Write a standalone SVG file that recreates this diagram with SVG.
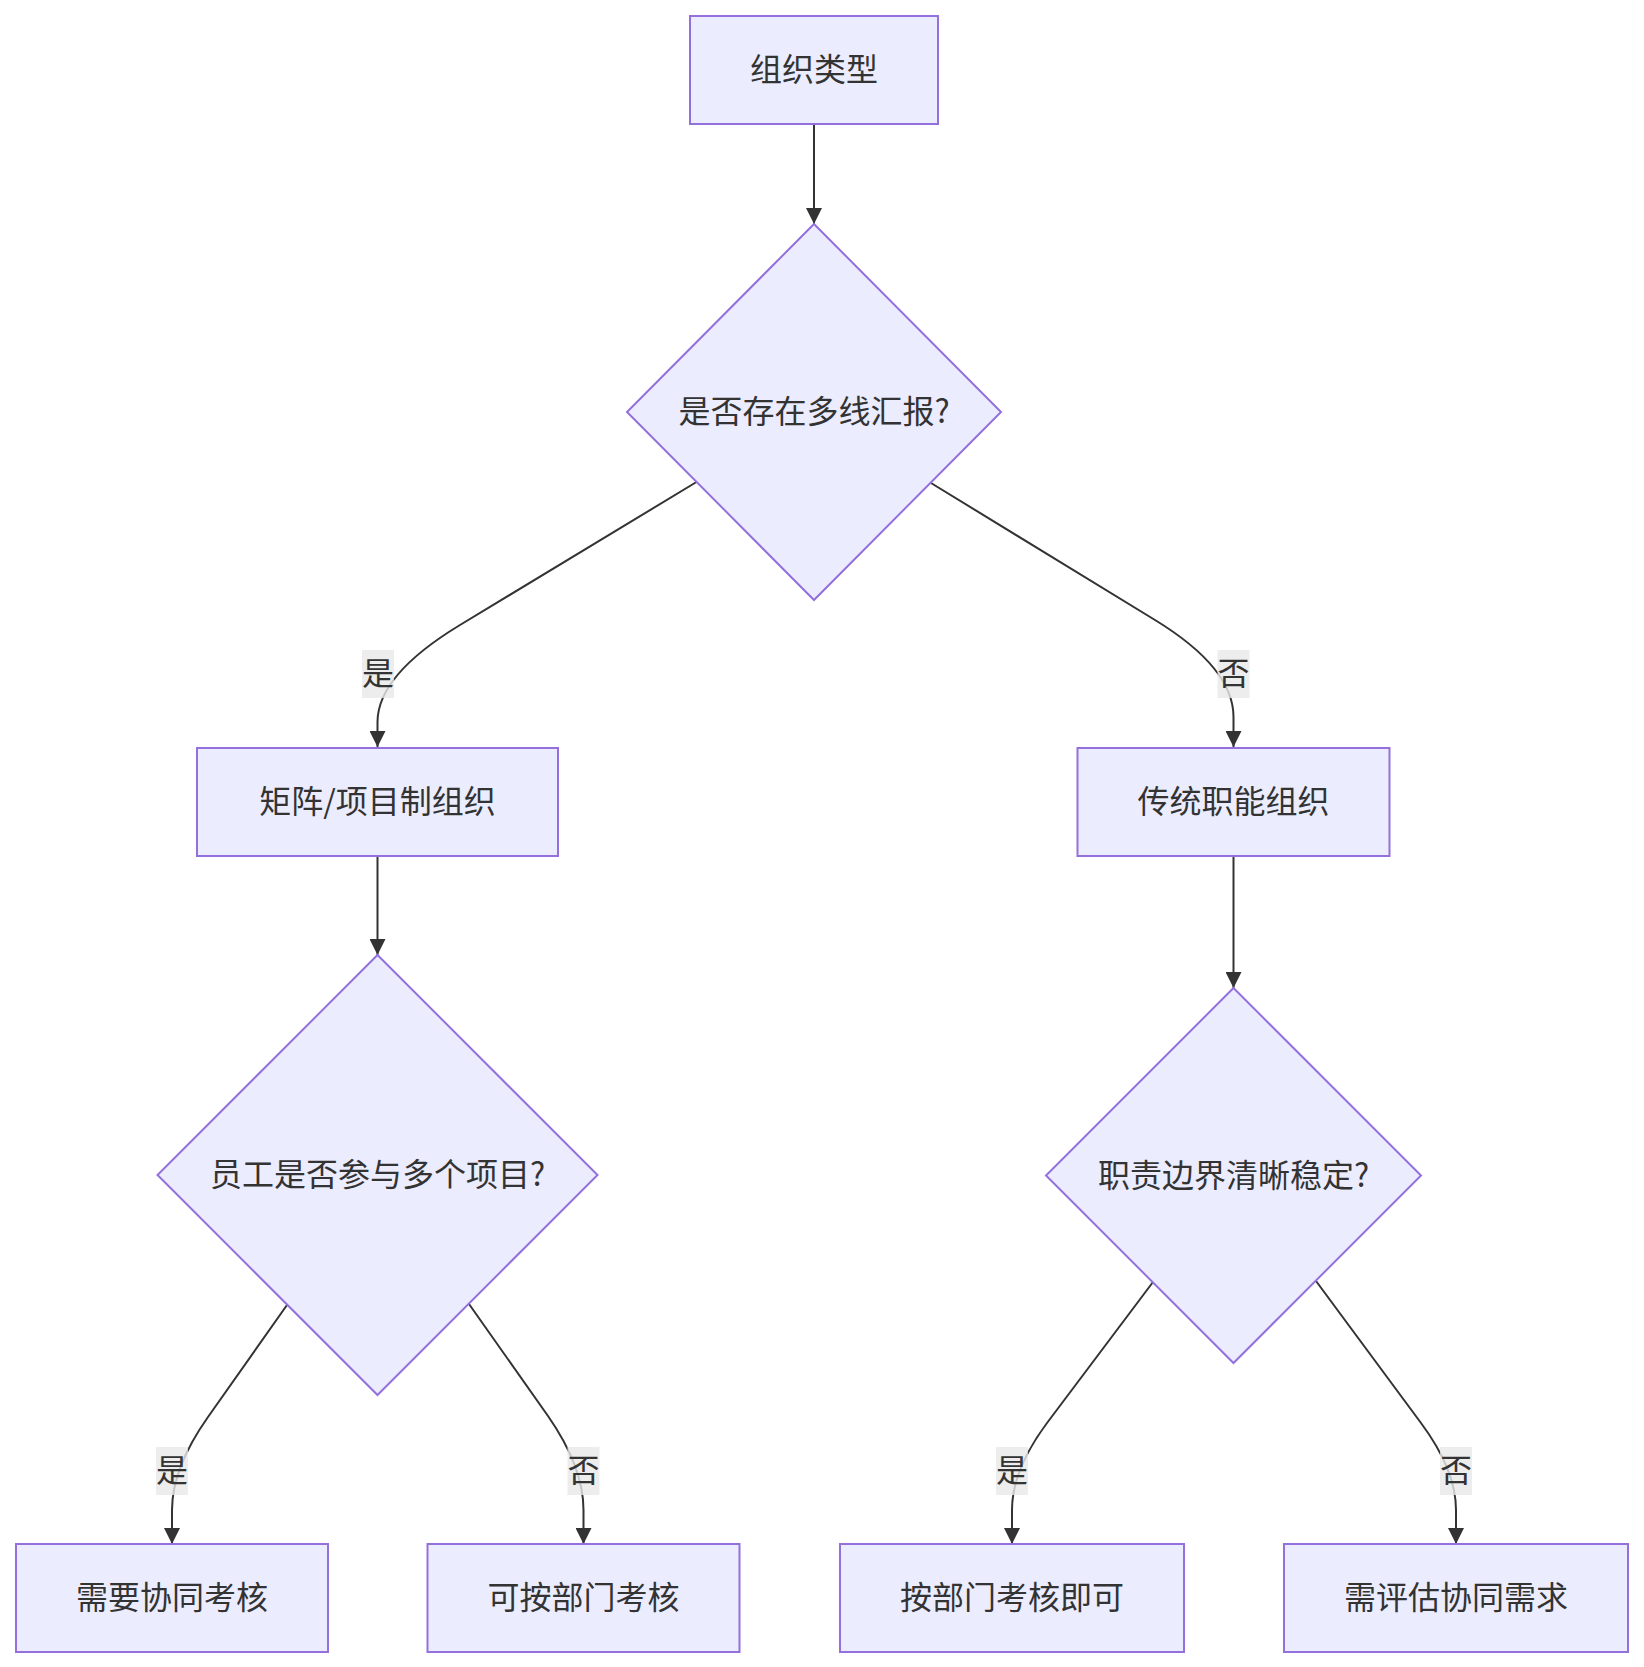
<svg xmlns="http://www.w3.org/2000/svg" width="1644" height="1667" viewBox="0 0 1644 1667">
<style>
.node rect,.node polygon{fill:#ECECFF;stroke:#9370DB;stroke-width:2}
.node text,.lbl text{font-family:"Noto Sans CJK SC","Liberation Sans",sans-serif;font-size:32px;fill:#333333;text-anchor:middle;dominant-baseline:central}
.edges path{fill:none;stroke:#333333;stroke-width:2}
.lbl rect{fill:#e8e8e8;fill-opacity:0.8}
</style>
<defs>
<marker id="arr" markerUnits="userSpaceOnUse" markerWidth="16" markerHeight="16" refX="16" refY="8" orient="auto">
<path d="M0,0 L16,8 L0,16 z" fill="#333333"/>
</marker>
</defs>
<rect width="1644" height="1667" fill="#ffffff"/>
<g id="connectors" class="edges">
<path d="M814,124 L814,224" marker-end="url(#arr)"/>
<path d="M696.5,482 L460,625 Q377.5,675 377.5,722 L377.5,747" marker-end="url(#arr)"/>
<path d="M931,483 L1155,620 Q1233.5,668 1233.5,717 L1233.5,747" marker-end="url(#arr)"/>
<path d="M377.5,856 L377.5,955" marker-end="url(#arr)"/>
<path d="M1233.5,856 L1233.5,988" marker-end="url(#arr)"/>
<path d="M287,1305 L208,1417 Q172,1468 172,1510 L172,1544" marker-end="url(#arr)"/>
<path d="M469,1304 L548,1416 Q583.5,1467 583.5,1510 L583.5,1544" marker-end="url(#arr)"/>
<path d="M1153,1282 L1047,1423 Q1012,1470 1012,1510 L1012,1544" marker-end="url(#arr)"/>
<path d="M1316,1281 L1421,1423 Q1456,1470 1456,1510 L1456,1544" marker-end="url(#arr)"/>
</g>
<g id="edge-labels">
<g class="lbl"><rect x="362" y="650" width="32" height="48"/><text x="378" y="671">是</text></g>
<g class="lbl"><rect x="1217.5" y="650" width="32" height="48"/><text x="1233.5" y="671">否</text></g>
<g class="lbl"><rect x="156" y="1447" width="32" height="48"/><text x="172" y="1468">是</text></g>
<g class="lbl"><rect x="567.5" y="1447" width="32" height="48"/><text x="583.5" y="1468">否</text></g>
<g class="lbl"><rect x="996" y="1447" width="32" height="48"/><text x="1012" y="1468">是</text></g>
<g class="lbl"><rect x="1440" y="1447" width="32" height="48"/><text x="1456" y="1468">否</text></g>
</g>
<g id="A" class="node"><rect x="690" y="16" width="248" height="108"/><text x="814" y="67">组织类型</text></g>
<g id="B" class="node"><polygon points="814,224 1001,412 814,600 627,412"/><text x="814" y="409">是否存在多线汇报?</text></g>
<g id="C" class="node"><rect x="197" y="748" width="361" height="108"/><text x="377.5" y="799">矩阵/项目制组织</text></g>
<g id="D" class="node"><rect x="1077.5" y="748" width="312" height="108"/><text x="1233.5" y="799">传统职能组织</text></g>
<g id="E" class="node"><polygon points="377.5,955 597.5,1175 377.5,1395 157.5,1175"/><text x="377.5" y="1172">员工是否参与多个项目?</text></g>
<g id="F" class="node"><polygon points="1233.5,988 1421,1175.5 1233.5,1363 1046,1175.5"/><text x="1233.5" y="1172.5">职责边界清晰稳定?</text></g>
<g id="G" class="node"><rect x="16" y="1544" width="312" height="108"/><text x="172" y="1595">需要协同考核</text></g>
<g id="H" class="node"><rect x="427.5" y="1544" width="312" height="108"/><text x="583.5" y="1595">可按部门考核</text></g>
<g id="I" class="node"><rect x="840" y="1544" width="344" height="108"/><text x="1012" y="1595">按部门考核即可</text></g>
<g id="J" class="node"><rect x="1284" y="1544" width="344" height="108"/><text x="1456" y="1595">需评估协同需求</text></g>
</svg>
